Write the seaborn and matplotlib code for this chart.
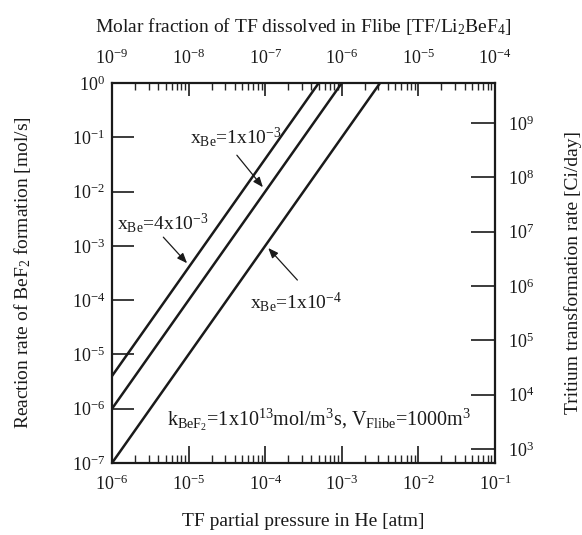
import numpy as np
import pandas as pd
import matplotlib
matplotlib.use('Agg')
import matplotlib.pyplot as plt
from matplotlib.ticker import LogLocator, NullLocator, FixedLocator
import seaborn as sns

# end points of each line (line runs to the top edge)
series = ['x_Be=4e-3', 'x_Be=1e-3', 'x_Be=1e-4']
pressure_start = [1e-6, 1e-6, 1e-6]
pressure_end = [5e-4, 1e-3, 3.16e-3]
rate_start = [4e-6, 1e-6, 1e-7]
rate_end = [1.0, 1.0, 1.0]

# secondary axes
top_ticks = [1e-9, 1e-8, 1e-7, 1e-6, 1e-5, 1e-4]
right_ticks = [1e3, 1e4, 1e5, 1e6, 1e7, 1e8, 1e9]
ci_per_mol_s = 5.5e9      # right axis conversion
molfrac_per_atm = 1e-3    # top axis conversion

rows = []
for i, s in enumerate(series):
    rows.append({'series': s, 'P': pressure_start[i], 'rate': rate_start[i]})
    rows.append({'series': s, 'P': pressure_end[i], 'rate': rate_end[i]})
df = pd.DataFrame(rows)

sns.set_theme(style='ticks')
plt.rcParams['font.family'] = ['Liberation Serif', 'DejaVu Serif']
plt.rcParams['mathtext.fontset'] = 'custom'
plt.rcParams['mathtext.rm'] = 'Liberation Serif'
plt.rcParams['mathtext.it'] = 'Liberation Serif:italic'
plt.rcParams['text.color'] = '#1a1a1a'
plt.rcParams['axes.labelcolor'] = '#1a1a1a'

ink = '#1a1a1a'
fig = plt.figure(figsize=(5.82, 5.35), dpi=100)
ax = fig.add_axes([112/582, 1-463/535, 383/582, 380/535])

sns.lineplot(data=df, x='P', y='rate', hue='series', palette=[ink]*3,
             linewidth=1.8, legend=False, ax=ax)
ax.set_xscale('log')
ax.set_yscale('log')
ax.set_xlim(1e-6, 1e-1)
ax.set_ylim(1e-7, 1)

ax.yaxis.set_major_locator(LogLocator(base=10, numticks=20))
ax.yaxis.set_minor_locator(NullLocator())
ax.tick_params(axis='x', which='major', direction='in', length=12, width=1.2,
               labelsize=13, pad=8, colors=ink, top=False)
ax.tick_params(axis='x', which='minor', direction='in', length=6, width=1.0, top=False)
ax.tick_params(axis='y', which='major', direction='in', length=16, width=1.2,
               labelsize=13, pad=5, colors=ink, right=False)
for sp in ax.spines.values():
    sp.set_linewidth(1.6)
    sp.set_color(ink)

ax.set_xlabel('TF partial pressure in He [atm]', fontsize=14, labelpad=14)
ax.set_ylabel('Reaction rate of BeF$_2$ formation [mol/s]', fontsize=14, labelpad=28)

top = ax.secondary_xaxis('top', functions=(lambda p: p*molfrac_per_atm,
                                            lambda m: m/molfrac_per_atm))
top.xaxis.set_major_locator(FixedLocator(top_ticks))
top.tick_params(axis='x', which='major', direction='in', length=9, width=1.2,
                labelsize=13, pad=11, colors=ink)
top.tick_params(axis='x', which='minor', direction='in', length=5, width=1.0)
top.set_xlabel('Molar fraction of TF dissolved in Flibe [TF/Li$_2$BeF$_4$]',
               fontsize=14, labelpad=12)

right = ax.secondary_yaxis('right', functions=(lambda r: r*ci_per_mol_s,
                                                lambda c: c/ci_per_mol_s))
right.yaxis.set_major_locator(FixedLocator(right_ticks))
right.yaxis.set_minor_locator(NullLocator())
right.tick_params(axis='y', which='major', direction='in', length=17, width=1.2,
                  labelsize=13, pad=9, colors=ink)
right.set_ylabel('Tritium transformation rate [Ci/day]', fontsize=14, labelpad=22)

arrow = dict(arrowstyle='-|>,head_length=0.5,head_width=0.2', color=ink, lw=0.9,
             shrinkA=0, shrinkB=0)
ax.annotate('x$_{\\rm Be}$=1x10$^{-3}$', xy=(10**-4.03, 10**-1.92),
            xytext=(10**-4.98, 10**-1.0), ha='left', va='center', fontsize=14)
ax.annotate('', xy=(10**-4.03, 10**-1.92), xytext=(10**-4.37, 10**-1.33),
            arrowprops=arrow)
ax.annotate('x$_{\\rm Be}$=4x10$^{-3}$', xy=(10**-5.02, 10**-3.32),
            xytext=(10**-5.93, 10**-2.58), ha='left', va='center', fontsize=14)
ax.annotate('', xy=(10**-5.02, 10**-3.32), xytext=(10**-5.33, 10**-2.84),
            arrowprops=arrow)
ax.annotate('x$_{\\rm Be}$=1x10$^{-4}$', xy=(10**-3.96, 10**-3.04),
            xytext=(10**-4.2, 10**-4.03), ha='left', va='center', fontsize=14)
ax.annotate('', xy=(10**-3.96, 10**-3.04), xytext=(10**-3.58, 10**-3.63),
            arrowprops=arrow)
ax.text(10**-5.28, 10**-6.21,
        'k$_{\\rm BeF_2}$=1x10$^{13}$mol/m$^3$s, V$_{\\rm Flibe}$=1000m$^3$',
        ha='left', va='center', fontsize=14.5)

fig.savefig('out.png', dpi=100)
